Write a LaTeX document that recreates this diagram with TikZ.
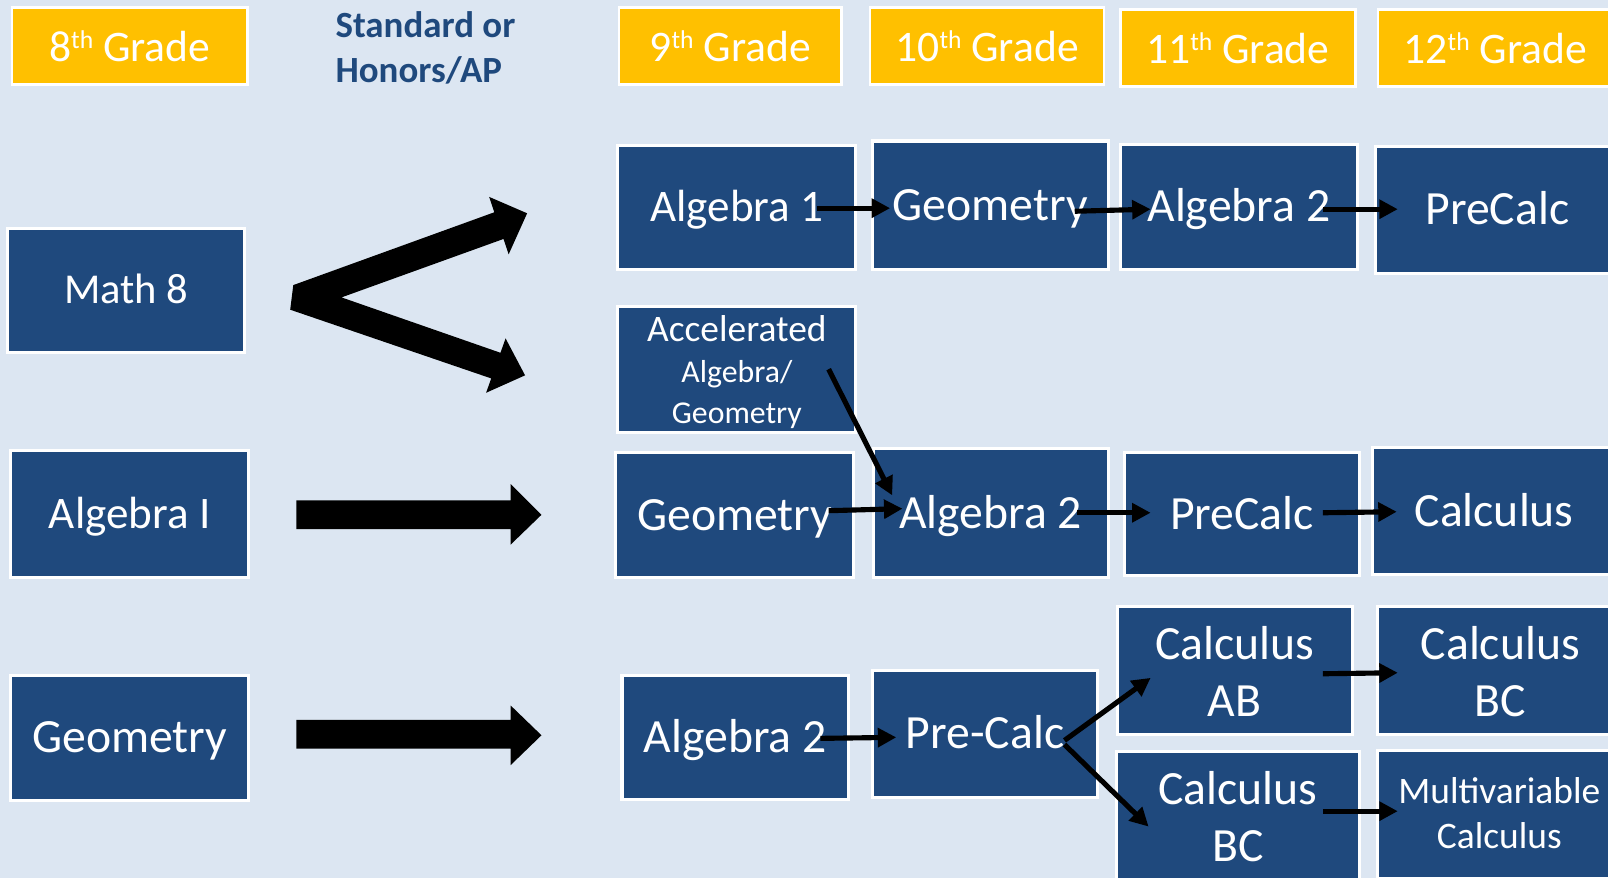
\documentclass[tikz,border=0pt]{standalone}
\usepackage{fontspec}
\setmainfont{Carlito}
\usetikzlibrary{arrows.meta}
\definecolor{bg}{HTML}{DCE6F2}
\definecolor{navy}{HTML}{1F497D}
\definecolor{gold}{HTML}{FFC000}
\newcommand{\sth}{\raisebox{12.5pt}{\fontsize{25}{25}\selectfont th}}
\begin{document}
\begin{tikzpicture}[x=1pt,y=-1pt,
  box/.style={fill=navy, draw=white, line width=3pt, text=white, inner sep=0pt, align=center,
    font=\fontsize{46.5}{56}\selectfont, text height=29.5pt, text depth=0pt},
  smallbox/.style={box, font=\fontsize{36.5}{44}\selectfont, text height=67.5pt},
  hdr/.style={fill=gold, draw=white, line width=2.5pt, text=white, inner sep=0pt,
    font=\fontsize{42.5}{48}\selectfont, text height=29.5pt, text depth=0pt},
  sz/.style 2 args={minimum width={#1-3}, minimum height={#2-3}},
  conn/.style={line width=5pt, -{Triangle[length=18pt,width=18pt]}},
  blockarrow/.style={fill=black}]
\useasboundingbox (0,0) rectangle (1568,856);
\clip (0,0) rectangle (1568,856);
\fill[bg] (0,0) rectangle (1568,856);

% headers
\node[hdr, sz={233}{78}] (h8)  at (126.5,45) {8\sth{} Grade};
\node[anchor=west, align=left, text=navy, inner sep=0pt, font=\bfseries\fontsize{36}{44}\selectfont] (hstd) at (327,47) {Standard or\\Honors/AP};
\node[hdr, sz={220}{78}] (h9)  at (712,45) {9\sth{} Grade};
\node[hdr, sz={231}{78}] (h10) at (962.5,45) {10\sth{} Grade};
\node[hdr, sz={232}{78}] (h11) at (1207,47) {11\sth{} Grade};
\node[hdr, sz={232}{78}] (h12) at (1458,47) {12\sth{} Grade};

% left column
\node[box, sz={234}{124}, font=\fontsize{41.5}{50}\selectfont, text height=26.5pt] (m8) at (123,283) {Math 8};
\node[box, sz={235}{127}, font=\fontsize{44}{50}\selectfont, text height=28pt] (alg1) at (126.5,501.5) {Algebra I};
\node[box, sz={235}{125}] (geo8) at (126.5,719.5) {Geometry};

% row 1
\node[box, sz={235}{124}, font=\fontsize{44}{50}\selectfont, text height=28pt] (a1) at (718.5,202) {Algebra 1};
\node[box, sz={233}{128}] (g1) at (965.5,200) {Geometry};
\node[box, sz={234}{125}] (b1) at (1208,201.5) {Algebra 2};
\node[box, sz={240}{127}] (p1) at (1460,204.5) {PreCalc};

% accelerated
\node[box, sz={235}{126}, font=\fontsize{31}{40}\selectfont, text height=106.5pt] (acc) at (718.5,360) {{\fontsize{36.5}{40}\selectfont Accelerated}\\Algebra/\\Geometry};

% row 2
\node[box, sz={235}{125}] (g2) at (716.5,502.5) {Geometry};
\node[box, sz={232}{129}] (b2) at (966,500.5) {Algebra 2};
\node[box, sz={232}{123}] (p2) at (1211,501.5) {PreCalc};
\node[box, sz={240}{127}] (c2) at (1457,498.5) {Calculus};

% row 3
\node[box, sz={224}{124}] (b3) at (717,719) {Algebra 2};
\node[box, sz={223}{127}] (p3) at (960.5,715.5) {Pre-Calc};
\node[box, sz={232}{128}, text height=89.5pt] (ab) at (1204,654) {Calculus\\AB};
\node[box, sz={242}{128}, text height=89.5pt] (bc) at (1463,654) {Calculus\\BC};
\node[box, sz={240}{133}, text height=84.5pt, font=\fontsize{46.5}{55}\selectfont] (bc11) at (1207,797.5) {Calculus\\BC};
\node[smallbox, sz={240}{128}] (mv) at (1462,794) {Multivariable\\Calculus};

% big block arrows
\fill[blockarrow] (286,278) -- (482,207) -- (477,192) -- (514,208) -- (496,248) -- (491,233) -- (333,290)
  -- (488,344) -- (493,330) -- (512,366) -- (474,383) -- (479,369) -- (283,302) -- cycle;
\fill[blockarrow] (289,488) -- (498,488) -- (498,472) -- (528,502) -- (498,531) -- (498,516) -- (289,516) -- cycle;
\fill[blockarrow] (289,702) -- (498,702) -- (498,688) -- (528,717) -- (498,746) -- (498,730) -- (289,730) -- cycle;

% connectors
\draw[conn] ([shift={(78.5,1)}]a1.center) -- ([shift={(-97.5,3)}]g1.center);
\draw[conn] ([shift={(82.5,6)}]g1.center) -- ([shift={(-86,2.5)}]b1.center);
\draw[conn] ([shift={(82,2.5)}]b1.center) -- ([shift={(-97,-0.5)}]p1.center);
\draw[conn] ([shift={(89.5,0)}]acc.center) -- ([shift={(-96,-17.5)}]b2.center);
\draw[conn] ([shift={(91.5,-4.5)}]g2.center) -- ([shift={(-86,-4.5)}]b2.center);
\draw[conn] ([shift={(84,-0.5)}]b2.center) -- ([shift={(-89,-1.5)}]p2.center);
\draw[conn] ([shift={(79,-1.5)}]p2.center) -- ([shift={(-95,0.5)}]c2.center);
\draw[conn] ([shift={(83,1)}]b3.center) -- ([shift={(-86.5,3.5)}]p3.center);
\draw[conn] ([shift={(77.5,6.5)}]p3.center) -- ([shift={(-82,7)}]ab.center);
\draw[conn] ([shift={(77.5,10.5)}]p3.center) -- ([shift={(-87,8.5)}]bc11.center);
\draw[conn] ([shift={(86,3)}]ab.center) -- ([shift={(-100,2)}]bc.center);
\draw[conn] ([shift={(83,-6.5)}]bc11.center) -- ([shift={(-99,-3)}]mv.center);
\end{tikzpicture}
\end{document}
